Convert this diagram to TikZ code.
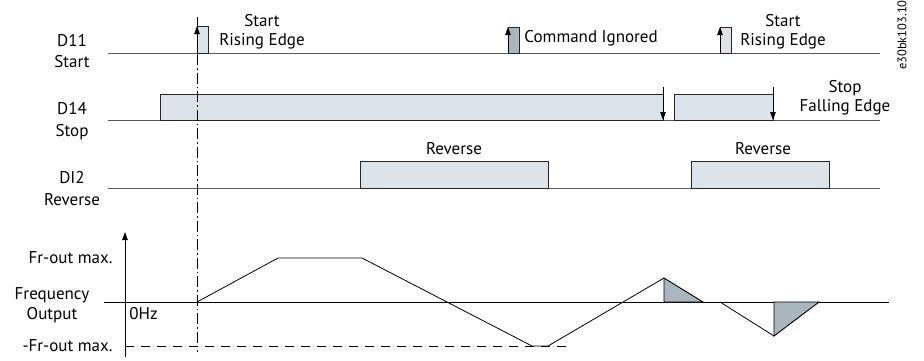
\documentclass[tikz,border=0pt]{standalone}
\usepackage{fontspec}
\setmainfont{PT Sans}
\usepackage{xcolor}
\usetikzlibrary{arrows.meta}
\definecolor{pulsefill}{HTML}{DCE3E9}
\definecolor{ignfill}{HTML}{A9B6BE}
\definecolor{sigline}{HTML}{58595B}

\begin{document}
\begin{tikzpicture}[x=1pt, y=-1pt, font=\fontsize{17}{19}\selectfont, line width=0.9pt,
  lbl/.style={align=center, inner sep=0pt},
  pulse/.style={draw=black!85, fill=pulsefill},
  edgeup/.style={-{Triangle[length=8pt,width=5.5pt]}},
  sig/.style={draw=sigline}]
\useasboundingbox (0,0) rectangle (924,360);
% signal names
\node[lbl] (nd11) at (72,41) {D11};
\node[lbl] (nstart) at (72,62) {Start};
\node[lbl] (nd14) at (72,109) {D14};
\node[lbl] (nstop) at (72,132) {Stop};
\node[lbl] (ndi2) at (72,178) {DI2};
\node[lbl] (nrev) at (72,200) {Reverse};
\node[lbl,anchor=east] (nmax) at (113,258) {Fr-out max.};
\node[lbl] (nfreq) at (52,295) {Frequency};
\node[lbl] (nout) at (52,315) {Output};
\node[lbl,anchor=east] (nmin) at (113,346) {-Fr-out max.};
\node[lbl,anchor=west] (nzero) at (129,314) {0Hz};
\node[lbl,rotate=90,font=\fontsize{12.5}{14}\selectfont] (nref) at (902,35) {e30bk103.10};
% D11 start
\draw[sig] (108,53) -- (880,53);
\draw[pulse] (197,53) rectangle (208,26);
\draw[edgeup] (197,53) -- (197,26);
\node[lbl] (rise1) at (262,32) {Start\\Rising Edge};
\draw[draw=black!85, fill=ignfill] (508,53) rectangle (519,27);
\draw[edgeup] (508,53) -- (508,27);
\node[lbl,anchor=west] (ign) at (524,38) {Command Ignored};
\draw[pulse] (720,53) rectangle (731,27);
\draw[edgeup] (720,53) -- (720,27);
\node[lbl] (rise2) at (783,32) {Start\\Rising Edge};
% D14 stop
\draw[sig] (108,120) -- (880,120);
\draw[pulse] (160,120) rectangle (663,94);
\draw[pulse] (674,120) rectangle (773,94);
\draw[edgeup] (663,87) -- (663,120);
\draw[edgeup] (773,87) -- (773,120);
\node[lbl] (fall) at (845,98) {Stop\\Falling Edge};
% DI2 reverse
\draw[sig] (108,188) -- (880,188);
\draw[pulse] (360,188) rectangle (548,161);
\node[lbl] (rev1) at (454,149) {Reverse};
\draw[pulse] (691,188) rectangle (829,161);
\node[lbl] (rev2) at (763,149) {Reverse};
% frequency output
\draw[edgeup] (125,357) -- (125,232);
\draw (104,302) -- (889,302);
\draw[dash pattern=on 9pt off 7pt] (125,346) -- (570,346);
\draw[line width=0.8pt, dash pattern=on 11pt off 3pt on 1.5pt off 3pt] (197,17) -- (197,352);
\draw[line width=0.8pt] (197,302) -- (278,258) -- (362,258) -- (532,346) -- (548,346) -- (664,278);
\draw[fill=ignfill] (664,278) -- (664,302) -- (703,302) -- cycle;
\draw[line width=0.8pt] (720,302) -- (774,336);
\draw[fill=ignfill] (774,336) -- (774,302) -- (819,302) -- cycle;
\end{tikzpicture}
\end{document}
